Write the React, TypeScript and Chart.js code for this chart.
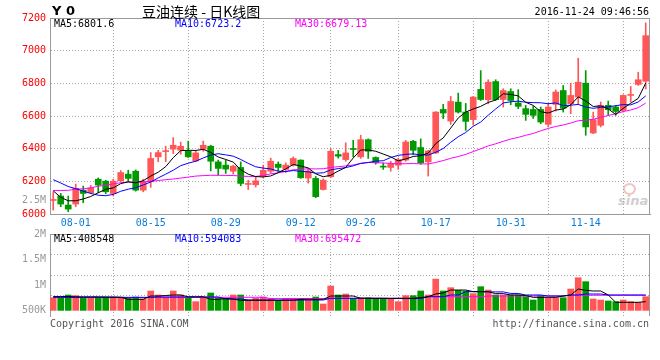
import React, { useEffect, useRef } from 'react';
import { Chart, registerables } from 'chart.js';

Chart.register(...registerables);

// ---------------- data ----------------
const tradingDates = [
  '07-27', '07-28', '07-29',
  '08-01', '08-02', '08-03', '08-04', '08-05', '08-08', '08-09', '08-10', '08-11', '08-12',
  '08-15', '08-16', '08-17', '08-18', '08-19', '08-22', '08-23', '08-24', '08-25', '08-26',
  '08-29', '08-30', '08-31', '09-01', '09-02', '09-05', '09-06', '09-07', '09-08', '09-09',
  '09-12', '09-13', '09-14', '09-19', '09-20', '09-21', '09-22', '09-23',
  '09-26', '09-27', '09-28', '09-29', '09-30',
  '10-10', '10-11', '10-12', '10-13', '10-14', '10-17', '10-18', '10-19', '10-20', '10-21',
  '10-24', '10-25', '10-26', '10-27', '10-28', '10-31',
  '11-01', '11-02', '11-03', '11-04', '11-07', '11-08', '11-09', '11-10', '11-11',
  '11-14', '11-15', '11-16', '11-17', '11-18', '11-21', '11-22', '11-23', '11-24',
];

const tickDates = ['08-01', '08-15', '08-29', '09-12', '09-26', '10-17', '10-31', '11-14'];

const openPrice = [
  6083, 6110, 6055, 6061, 6146, 6130, 6213, 6201, 6126, 6203,
  6244, 6262, 6146, 6197, 6350, 6382, 6397, 6390, 6384, 6325,
  6397, 6415, 6319, 6299, 6262, 6285, 6181, 6179, 6232, 6262,
  6305, 6273, 6299, 6330, 6220, 6218, 6150, 6228, 6364, 6333,
  6401, 6350, 6455, 6346, 6293, 6285, 6299, 6330, 6445, 6407,
  6319, 6374, 6640, 6569, 6685, 6624, 6578, 6763, 6700, 6811,
  6701, 6750, 6680, 6645, 6640, 6640, 6549, 6671, 6756, 6675,
  6716, 6801, 6496, 6543, 6665, 6655, 6634, 6726, 6793, 6813,
];
const highPrice = [
  6136, 6126, 6110, 6183, 6171, 6175, 6221, 6207, 6213, 6266,
  6268, 6270, 6213, 6376, 6390, 6415, 6468, 6440, 6446, 6390,
  6446, 6421, 6330, 6330, 6299, 6319, 6207, 6230, 6299, 6342,
  6319, 6313, 6350, 6332, 6276, 6230, 6215, 6400, 6390, 6436,
  6451, 6482, 6460, 6350, 6313, 6323, 6342, 6451, 6451, 6460,
  6390, 6627, 6671, 6720, 6740, 6677, 6720, 6878, 6822, 6822,
  6767, 6767, 6761, 6665, 6659, 6655, 6679, 6760, 6787, 6801,
  6954, 6878, 6624, 6686, 6691, 6665, 6730, 6781, 6868, 7170,
];
const lowPrice = [
  6024, 6045, 6014, 6045, 6069, 6124, 6130, 6124, 6110, 6199,
  6199, 6140, 6136, 6163, 6320, 6320, 6370, 6366, 6346, 6320,
  6384, 6264, 6238, 6248, 6244, 6173, 6150, 6165, 6220, 6250,
  6262, 6254, 6293, 6218, 6189, 6100, 6146, 6222, 6342, 6323,
  6350, 6340, 6340, 6305, 6273, 6262, 6273, 6323, 6362, 6305,
  6232, 6370, 6584, 6549, 6618, 6512, 6545, 6695, 6675, 6695,
  6655, 6669, 6645, 6573, 6585, 6553, 6533, 6630, 6624, 6614,
  6671, 6482, 6492, 6533, 6604, 6604, 6624, 6685, 6787, 6765,
];
const closePrice = [
  6089, 6061, 6030, 6157, 6126, 6160, 6177, 6136, 6201, 6254,
  6218, 6146, 6201, 6340, 6376, 6388, 6421, 6415, 6350, 6374,
  6421, 6323, 6279, 6275, 6293, 6187, 6187, 6203, 6268, 6323,
  6285, 6299, 6340, 6222, 6264, 6106, 6207, 6384, 6354, 6374,
  6395, 6455, 6384, 6313, 6287, 6309, 6333, 6441, 6390, 6313,
  6386, 6624, 6618, 6689, 6624, 6567, 6716, 6701, 6807, 6700,
  6756, 6695, 6659, 6610, 6604, 6563, 6655, 6747, 6648, 6726,
  6807, 6533, 6578, 6665, 6639, 6628, 6726, 6732, 6822, 7092,
];

const ma5 = [
  6142, 6102, 6081, 6081, 6092, 6107, 6130, 6151, 6160, 6186,
  6197, 6191, 6204, 6232, 6256, 6290, 6345, 6388, 6390, 6389,
  6396, 6377, 6349, 6334, 6318, 6271, 6244, 6229, 6227, 6233,
  6253, 6276, 6303, 6294, 6282, 6246, 6228, 6237, 6263, 6285,
  6343, 6392, 6392, 6384, 6367, 6350, 6325, 6337, 6352, 6357,
  6373, 6431, 6466, 6526, 6588, 6624, 6643, 6659, 6683, 6698,
  6736, 6732, 6723, 6684, 6665, 6626, 6618, 6636, 6643, 6668,
  6717, 6692, 6658, 6662, 6644, 6609, 6647, 6678, 6708, 6801.6,
];
const ma10 = [
  6210, 6190, 6168, 6155, 6140, 6126, 6115, 6112, 6120, 6139,
  6152, 6161, 6178, 6196, 6221, 6244, 6268, 6296, 6311, 6323,
  6343, 6361, 6369, 6362, 6354, 6334, 6310, 6289, 6281, 6276,
  6262, 6260, 6266, 6261, 6258, 6250, 6252, 6270, 6278, 6284,
  6295, 6310, 6315, 6324, 6326, 6346, 6359, 6365, 6368, 6362,
  6361, 6378, 6401, 6439, 6473, 6499, 6537, 6563, 6605, 6643,
  6680, 6687, 6691, 6684, 6682, 6681, 6675, 6680, 6664, 6666,
  6671, 6655, 6647, 6653, 6656, 6663, 6670, 6668, 6686, 6723.2,
];
const ma30 = [
  6144, 6144, 6145, 6152, 6154, 6160, 6170, 6176, 6184, 6192,
  6195, 6195, 6196, 6200, 6205, 6210, 6214, 6220, 6226, 6232,
  6235, 6237, 6237, 6236, 6236, 6232, 6230, 6230, 6236, 6246,
  6252, 6260, 6271, 6273, 6277, 6276, 6277, 6285, 6290, 6294,
  6300, 6310, 6316, 6315, 6312, 6310, 6307, 6308, 6309, 6307,
  6306, 6316, 6327, 6341, 6352, 6365, 6382, 6399, 6417, 6430,
  6445, 6459, 6469, 6482, 6493, 6509, 6524, 6536, 6545, 6557,
  6571, 6574, 6580, 6592, 6603, 6614, 6627, 6637, 6651, 6679.13,
];

const volume = [
  757000, 745000, 810000, 797000, 745000, 745000, 757000, 771000, 771000, 771000,
  745000, 771000, 732000, 888000, 810000, 771000, 888000, 810000, 757000, 680000,
  771000, 849000, 757000, 745000, 810000, 810000, 712000, 745000, 771000, 745000,
  693000, 745000, 745000, 745000, 745000, 771000, 634000, 985000, 810000, 829000,
  745000, 757000, 757000, 745000, 745000, 732000, 680000, 797000, 797000, 888000,
  810000, 1120000, 888000, 953000, 901000, 888000, 836000, 972000, 907000, 810000,
  810000, 810000, 810000, 777000, 712000, 797000, 745000, 757000, 757000, 927000,
  1147000, 1070000, 732000, 712000, 693000, 680000, 712000, 680000, 667000, 777000,
];
const volMa5 = [
  780000, 780000, 780000, 775000, 775000, 775000, 775000, 770000, 770000, 765000,
  725000, 725000, 725000, 790000, 790000, 800000, 810000, 810000, 775000, 775000,
  775000, 725000, 725000, 740000, 730000, 706000, 706000, 706000, 706000, 706000,
  706000, 706000, 706000, 725000, 725000, 725000, 725000, 790000, 790000, 790000,
  790000, 745000, 745000, 745000, 745000, 745000, 745000, 745000, 745000, 760000,
  777000, 829000, 850000, 907000, 907000, 907000, 875000, 875000, 875000, 836000,
  836000, 810000, 810000, 800000, 764000, 764000, 764000, 764000, 790000, 810000,
  927000, 900000, 888000, 888000, 810000, 667000, 667000, 667000, 667000, 680000,
];
const volMa10 = [
  764000, 764000, 764000, 764000, 764000, 764000, 764000, 764000, 764000, 764000,
  764000, 764000, 764000, 764000, 771000, 771000, 771000, 771000, 771000, 771000,
  771000, 771000, 771000, 732000, 732000, 732000, 712000, 712000, 712000, 712000,
  712000, 712000, 712000, 712000, 712000, 712000, 712000, 745000, 745000, 745000,
  745000, 745000, 745000, 745000, 745000, 740000, 740000, 740000, 740000, 740000,
  777000, 777000, 777000, 810000, 810000, 875000, 875000, 875000, 870000, 870000,
  870000, 840000, 840000, 810000, 810000, 810000, 790000, 790000, 790000, 810000,
  810000, 829000, 829000, 829000, 810000, 810000, 810000, 810000, 810000, 810000,
];
const volMa30 = [
  760000, 760000, 760000, 760000, 760000, 760000, 760000, 760000, 760000, 760000,
  760000, 760000, 760000, 760000, 760000, 760000, 760000, 760000, 760000, 760000,
  765000, 765000, 765000, 765000, 765000, 765000, 765000, 765000, 765000, 740000,
  740000, 740000, 740000, 740000, 740000, 740000, 740000, 745000, 745000, 745000,
  745000, 745000, 745000, 745000, 745000, 745000, 745000, 745000, 745000, 745000,
  777000, 777000, 777000, 777000, 777000, 777000, 777000, 777000, 790000, 790000,
  790000, 790000, 790000, 790000, 790000, 790000, 790000, 790000, 790000, 805000,
  805000, 805000, 805000, 805000, 805000, 805000, 805000, 805000, 805000, 805000,
];

const priceTicks = [6000, 6200, 6400, 6600, 6800, 7000, 7200];
const volumeLabelValues = [500000, 1000000, 1500000, 2000000];
const volumeLabelTexts = ['500K', '1M', '1.5M', '2M'];
const volumeGridValues = [800000, 1200000, 1600000];

// ---------------- styles ----------------
const UP = '#ff5757';
const DOWN = '#009a00';
const MONO = '"DejaVu Sans Mono", "Liberation Mono", monospace';
const X_MIN = -0.43;
const X_MAX = 79.57;
const GRID = '#a8a8a8';
const AXIS = '#9a9a9a';

const isUp = (i: number) => closePrice[i] >= openPrice[i];
const candleColors = closePrice.map((_, i) => (isUp(i) ? UP : DOWN));

const framePlugin = {
  id: 'frame',
  afterDraw(chart: any) {
    const { ctx, chartArea } = chart;
    const { left, right, top, bottom } = chartArea;
    ctx.save();
    ctx.strokeStyle = AXIS;
    ctx.lineWidth = 1;
    ctx.beginPath();
    ctx.moveTo(left, top + 0.5);
    ctx.lineTo(right, top + 0.5);
    ctx.moveTo(right - 0.5, top);
    ctx.lineTo(right - 0.5, bottom);
    ctx.stroke();
    ctx.restore();
  },
};

function xAxis(showLabels: boolean, height: number) {
  return {
    type: 'linear',
    min: X_MIN,
    max: X_MAX,
    bounds: 'data',
    offset: false,
    afterBuildTicks: (s: any) => {
      s.ticks = tickDates.map((d) => ({ value: tradingDates.indexOf(d) }));
    },
    afterFit: (s: any) => {
      s.height = height;
    },
    ticks: {
      display: showLabels,
      autoSkip: false,
      maxRotation: 0,
      padding: 3,
      color: '#0b7dd6',
      font: { family: MONO, size: 10 },
      callback: (v: number) => tradingDates[v] ?? '',
    },
    grid: { color: GRID, drawTicks: false, lineWidth: 1 },
    border: { display: showLabels, color: AXIS, dash: [1, 2] },
  };
}

function lineDs(label: string, values: number[], color: string) {
  return {
    type: 'line',
    label,
    data: values.map((y, x) => ({ x, y })),
    borderColor: color,
    borderWidth: 1,
    pointRadius: 0,
    tension: 0,
    fill: false,
    order: 0,
  };
}

const Txt = ({ x, y, right, color = '#000', size = 10, family = MONO, weight = 'normal', children }: any) => (
  <div
    style={{
      position: 'absolute',
      left: right ? undefined : x,
      right: right ? 660 - right : undefined,
      top: y - size / 2,
      color,
      font: `${weight} ${size}px ${family}`,
      lineHeight: `${size}px`,
      whiteSpace: 'pre',
    }}
  >
    {children}
  </div>
);

export default function App() {
  const priceRef = useRef<HTMLCanvasElement>(null);
  const volRef = useRef<HTMLCanvasElement>(null);

  useEffect(() => {
    const priceChart = new Chart(priceRef.current as HTMLCanvasElement, {
      type: 'bar',
      data: {
        datasets: [
          lineDs('MA5', ma5, '#000000'),
          lineDs('MA10', ma10, '#0000ff'),
          lineDs('MA30', ma30, '#ff00ff'),
          {
            type: 'bar',
            label: 'body',
            data: openPrice.map((o, i) => ({ x: i, y: [o, closePrice[i]] })),
            backgroundColor: candleColors,
            borderWidth: 0,
            barThickness: 6,
            minBarLength: 1,
            grouped: false,
            order: 1,
          },
          {
            type: 'bar',
            label: 'wick',
            data: lowPrice.map((l, i) => ({ x: i, y: [l, highPrice[i]] })),
            backgroundColor: candleColors,
            borderWidth: 0,
            barThickness: 1,
            grouped: false,
            order: 2,
          },
        ] as any,
      },
      options: {
        animation: false,
        responsive: false,
        events: [],
        layout: { padding: { left: 0, right: 10, top: 18, bottom: 0 } },
        plugins: { legend: { display: false }, tooltip: { enabled: false } },
        scales: {
          x: xAxis(true, 18) as any,
          y: {
            type: 'linear',
            min: 6000,
            max: 7200,
            afterBuildTicks: (s: any) => {
              s.ticks = priceTicks.map((v) => ({ value: v }));
            },
            afterFit: (s: any) => {
              s.width = 50;
            },
            ticks: {
              color: '#ff0000',
              font: { family: MONO, size: 10 },
              padding: 4,
              autoSkip: false,
              callback: (v: number) => String(v),
            },
            grid: {
              drawTicks: false,
              color: (ctx: any) =>
                ctx.tick && (ctx.tick.value === 6000 || ctx.tick.value === 7200) ? 'rgba(0,0,0,0)' : GRID,
            },
            border: { color: AXIS, dash: [1, 2] },
          },
        },
      },
      plugins: [framePlugin],
    });

    const volChart = new Chart(volRef.current as HTMLCanvasElement, {
      type: 'bar',
      data: {
        datasets: [
          lineDs('MA5', volMa5, '#000000'),
          lineDs('MA10', volMa10, '#0000ff'),
          lineDs('MA30', volMa30, '#ff00ff'),
          {
            type: 'bar',
            label: 'volume',
            data: volume.map((v, i) => ({ x: i, y: v })),
            backgroundColor: candleColors,
            borderWidth: 0,
            barThickness: 6,
            base: 500000,
            grouped: false,
            order: 1,
          },
        ] as any,
      },
      options: {
        animation: false,
        responsive: false,
        events: [],
        layout: { padding: { left: 0, right: 10, top: 14, bottom: 0 } },
        plugins: { legend: { display: false }, tooltip: { enabled: false } },
        scales: {
          x: xAxis(false, 44) as any,
          y: {
            type: 'linear',
            min: 400000,
            max: 2000000,
            afterBuildTicks: (s: any) => {
              const vals = [...volumeLabelValues, ...volumeGridValues].sort((a, b) => a - b);
              s.ticks = vals.map((v) => ({ value: v }));
            },
            afterFit: (s: any) => {
              s.width = 50;
            },
            ticks: {
              color: '#999999',
              font: { family: MONO, size: 10 },
              padding: 4,
              autoSkip: false,
              callback: (v: number) => {
                const k = volumeLabelValues.indexOf(v);
                return k >= 0 ? volumeLabelTexts[k] : '';
              },
            },
            grid: {
              drawTicks: false,
              color: (ctx: any) => (ctx.tick && volumeGridValues.includes(ctx.tick.value) ? GRID : 'rgba(0,0,0,0)'),
            },
            border: { color: AXIS, dash: [1, 2] },
          },
        },
      },
      plugins: [framePlugin],
    });

    return () => {
      priceChart.destroy();
      volChart.destroy();
    };
  }, []);

  return (
    <div style={{ position: 'absolute', left: 0, top: 0, width: 660, height: 360, background: '#fff', overflow: 'hidden' }}>
      {/* sina watermark */}
      <div
        style={{
          position: 'absolute',
          left: 623,
          top: 183,
          width: 9,
          height: 8,
          borderRadius: '50%',
          border: '2px solid #f2c4c4',
        }}
      />
      <Txt x={618} y={200} size={13} weight="bold" color="#cfcfcf" family="DejaVu Sans">
        <span style={{ fontStyle: 'italic' }}>sina</span>
      </Txt>

      <canvas ref={priceRef} width={660} height={232} style={{ position: 'absolute', left: 0, top: 0 }} />
      <canvas ref={volRef} width={660} height={140} style={{ position: 'absolute', left: 0, top: 220 }} />

      <Txt x={52} y={10} size={13} weight="bold" family="DejaVu Sans">Y 0</Txt>
      <Txt x={142} y={11} size={14} family='"Noto Sans CJK SC"'>豆油连续 - 日K线图</Txt>
      <Txt right={649} y={12}>2016-11-24 09:46:56</Txt>

      <Txt x={54} y={24}>MA5:6801.6</Txt>
      <Txt x={175} y={24} color="#0000ff">MA10:6723.2</Txt>
      <Txt x={295} y={24} color="#ff00ff">MA30:6679.13</Txt>
      <Txt right={46} y={200} color="#999999">2.5M</Txt>

      <Txt x={54} y={239}>MA5:408548</Txt>
      <Txt x={175} y={239} color="#0000ff">MA10:594083</Txt>
      <Txt x={295} y={239} color="#ff00ff">MA30:695472</Txt>

      <Txt x={50} y={324} color="#555555">Copyright 2016 SINA.COM</Txt>
      <Txt right={649} y={324} color="#555555">http://finance.sina.com.cn</Txt>
    </div>
  );
}
